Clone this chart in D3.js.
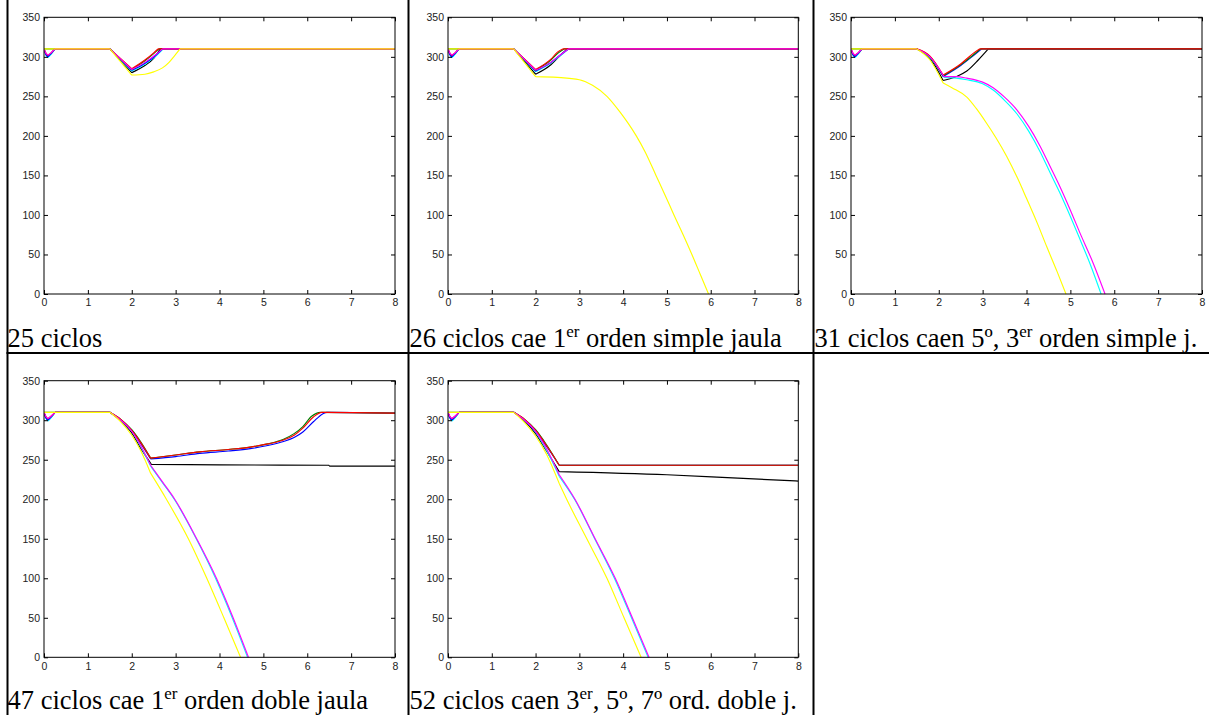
<!DOCTYPE html>
<html>
<head>
<meta charset="utf-8">
<script src="https://cdn.jsdelivr.net/npm/d3@7/dist/d3.min.js"></script>
<style>
  html, body { margin: 0; padding: 0; background: #fff; }
  svg { display: block; }
</style>
</head>
<body>
<svg id="chart" width="1209" height="715"></svg>
<script>
// ---------- DATA ----------
// each point: [time, value] ; a third element 1 marks a sharp corner of the trace
const xTicks = [0, 1, 2, 3, 4, 5, 6, 7, 8];
const yTicks = [0, 50, 100, 150, 200, 250, 300, 350];
const seriesKeys = ["k", "c", "b", "g", "r", "m", "y"];

// Panel 1: 25 ciclos
const p1_k = [[0,310],[0.04,304],[0.09,301,1],[0.16,304],[0.25,310,1],[1.5,310,1],[2.0,280,1],[2.3,289],[2.5,298],[2.65,310,1],[8,310]];
const p1_c = [[0,310],[0.04,303],[0.09,299,1],[0.16,303],[0.25,310,1],[1.5,310,1],[2.0,282,1],[2.3,291],[2.55,301],[2.72,310,1],[8,310]];
const p1_b = [[0,310],[0.04,303],[0.09,300,1],[0.16,304],[0.25,310,1],[1.5,310,1],[2.0,283,1],[2.3,292],[2.55,302],[2.7,310,1],[8,310]];
const p1_g = [[0,310],[1.5,310,1],[2.0,284,1],[2.3,295],[2.5,304],[2.62,310,1],[8,310]];
const p1_r = [[0,310],[0.04,305],[0.09,302,1],[0.16,305],[0.25,310,1],[1.5,310,1],[2.0,285,1],[2.3,296],[2.5,305],[2.6,310,1],[8,310]];
const p1_m = [[0,310],[0.04,305],[0.09,302,1],[0.16,305],[0.25,310,1],[1.5,310,1],[2.0,284,1],[2.3,293],[2.55,303],[2.7,310,1],[8,310]];
const p1_y = [[0,310],[1.5,310,1],[2.0,277,1],[2.3,278],[2.5,281],[2.7,286],[2.85,293],[2.97,301],[3.1,310,1],[8,310]];

// Panel 2: 26 ciclos
const p2_k = [[0,310],[0.04,304],[0.09,301,1],[0.16,304],[0.25,310,1],[1.5,310,1],[2.0,278,1],[2.35,290],[2.55,301],[2.72,310,1],[8,310]];
const p2_c = [[0,310],[0.04,303],[0.09,299,1],[0.16,303],[0.25,310,1],[1.5,310,1],[2.0,281,1],[2.35,292],[2.58,302],[2.75,310,1],[8,310]];
const p2_b = [[0,310],[0.04,303],[0.09,300,1],[0.16,304],[0.25,310,1],[1.5,310,1],[2.0,282,1],[2.35,293],[2.58,303],[2.75,310,1],[8,310]];
const p2_g = [[0,310],[1.5,310,1],[2.0,283,1],[2.35,296],[2.52,305],[2.65,310,1],[8,310]];
const p2_r = [[0,310],[0.04,305],[0.09,302,1],[0.16,305],[0.25,310,1],[1.5,310,1],[2.0,284,1],[2.35,297],[2.5,306],[2.62,310,1],[8,310]];
const p2_m = [[0,310],[0.04,305],[0.09,302,1],[0.16,305],[0.25,310,1],[1.5,310,1],[2.0,283,1],[2.35,293],[2.58,303],[2.75,310,1],[8,310]];
const p2_y = [[0,310],[1.5,310,1],[2.0,275,1],[2.5,274],[3.0,271],[3.3,264],[3.63,250],[3.93,230],[4.1,217],[4.3,200],[4.5,180],[4.75,150],[4.95,126],[5.16,100],[5.37,75],[5.57,50],[5.76,25],[5.95,0]];

// Panel 3: 31 ciclos
const p3_k = [[0,310],[0.04,304],[0.09,301,1],[0.16,304],[0.25,310,1],[1.5,310,1],[1.8,298],[2.1,270,1],[2.4,275],[2.64,282],[2.9,296],[3.13,310,1],[8,310]];
const p3_c = [[0,310],[0.04,303],[0.09,299,1],[0.16,303],[0.25,310,1],[1.5,310,1],[1.8,299],[2.12,274,1],[2.4,273],[2.64,271],[3.0,266],[3.24,258],[3.5,245],[3.78,228],[4.05,206],[4.31,180],[4.55,152],[4.76,128],[5.0,98],[5.22,69],[5.45,38],[5.70,0]];
const p3_b = [[0,310],[0.04,303],[0.09,300,1],[0.16,304],[0.25,310,1],[1.5,310,1],[1.8,300],[2.1,275,1],[2.5,289],[2.8,302],[2.98,310,1],[8,310]];
const p3_g = [[0,310],[1.5,310,1],[1.8,300],[2.1,276,1],[2.5,290],[2.8,303],[2.95,310,1],[8,310]];
const p3_r = [[0,310],[0.04,305],[0.09,302,1],[0.16,305],[0.25,310,1],[1.5,310,1],[1.8,301],[2.1,277,1],[2.5,291],[2.8,305],[2.93,310,1],[8,310]];
const p3_m = [[0,310],[0.04,305],[0.09,302,1],[0.16,305],[0.25,310,1],[1.5,310,1],[1.8,300],[2.12,275,1],[2.4,275],[2.64,273],[3.0,268],[3.24,261],[3.5,249],[3.78,233],[4.05,212],[4.31,187],[4.55,160],[4.76,136],[5.0,106],[5.22,77],[5.52,39],[5.79,0]];
const p3_y = [[0,310],[1.5,310,1],[1.8,296],[2.1,267,1],[2.3,261],[2.64,249],[2.85,235],[3.09,216],[3.3,198],[3.55,174],[3.8,146],[4.0,121],[4.25,89],[4.46,60],[4.7,28],[4.90,0]];

// Panel 4: 47 ciclos
const p4_k = [[0,310],[0.04,304],[0.09,301,1],[0.16,304],[0.25,310,1],[1.5,310,1],[1.75,299],[2.0,284],[2.2,265],[2.45,244,1],[4.0,243.5],[6.5,243,1],[6.5,242,1],[8,242]];
const p4_c = [[0,310],[0.04,303],[0.09,299,1],[0.16,303],[0.25,310,1],[1.5,310,1],[1.75,300],[2.0,286],[2.2,267],[2.43,242,1],[2.7,221],[2.98,199],[3.47,150],[3.91,100],[4.29,50],[4.64,0]];
const p4_b = [[0,310],[0.04,303],[0.09,300,1],[0.16,304],[0.25,310,1],[1.5,310,1],[1.75,300],[2.0,287],[2.2,271],[2.43,251,1],[3.0,254],[3.55,258],[4.2,261],[4.7,264],[5.1,268],[5.46,273],[5.7,278],[5.9,285],[6.14,298],[6.35,308],[6.45,310],[8,309]];
const p4_g = [[0,310],[1.5,310,1],[1.75,301],[2.0,288],[2.2,273],[2.43,252,1],[3.0,256],[3.55,260],[4.2,263],[4.7,266],[5.1,270],[5.46,276],[5.7,283],[5.9,292],[6.1,305],[6.3,310],[8,309]];
const p4_r = [[0,310],[0.04,305],[0.09,302,1],[0.16,305],[0.25,310,1],[1.5,310,1],[1.75,301],[2.0,287],[2.2,272],[2.43,252,1],[3.0,256],[3.55,260],[4.2,263],[4.7,266],[5.1,270],[5.46,275],[5.7,281],[5.9,290],[6.14,304],[6.33,310],[8,309]];
const p4_m = [[0,310],[0.04,305],[0.09,302,1],[0.16,305],[0.25,310,1],[1.5,310,1],[1.75,300],[2.0,286],[2.2,268],[2.43,243,1],[2.7,222],[2.98,200],[3.48,150],[3.93,100],[4.31,50],[4.66,0]];
const p4_y = [[0,310],[1.5,310,1],[1.75,298],[2.0,281],[2.2,262],[2.43,233,1],[2.79,200],[3.29,150],[3.71,100],[4.1,50],[4.48,0]];

// Panel 5: 52 ciclos
const p5_k = [[0,310],[0.04,304],[0.09,301,1],[0.16,304],[0.25,310,1],[1.5,310,1],[1.75,299],[2.0,283],[2.25,261],[2.54,235,1],[5.0,231],[6.5,227],[8,223]];
const p5_c = [[0,310],[0.04,303],[0.09,299,1],[0.16,303],[0.25,310,1],[1.5,310,1],[1.75,300],[2.0,285],[2.25,262],[2.54,229,1],[2.9,199],[3.35,150],[3.8,100],[4.19,50],[4.57,0]];
const p5_b = [[0,310],[0.04,303],[0.09,300,1],[0.16,304],[0.25,310,1],[1.5,310,1],[1.75,300],[2.0,286],[2.25,267],[2.54,243,1],[8,243]];
const p5_g = [[0,310],[1.5,310,1],[1.75,301],[2.0,288],[2.25,269],[2.54,243,1],[8,243]];
const p5_r = [[0,310],[0.04,305],[0.09,302,1],[0.16,305],[0.25,310,1],[1.5,310,1],[1.75,301],[2.0,287],[2.25,268],[2.54,243,1],[8,243]];
const p5_m = [[0,310],[0.04,305],[0.09,302,1],[0.16,305],[0.25,310,1],[1.5,310,1],[1.75,300],[2.0,286],[2.25,264],[2.54,231,1],[2.9,200],[3.36,150],[3.82,100],[4.21,50],[4.59,0]];
const p5_y = [[0,310],[1.5,310,1],[1.75,297],[2.0,280],[2.25,257],[2.54,220,1],[2.71,200],[3.17,150],[3.63,100],[4.02,50],[4.41,0]];

const captionsMain = ["25 ciclos", "26 ciclos cae 1", "31 ciclos caen 5º, 3", "47 ciclos cae 1", "52 ciclos caen 3"];
const captionsSup  = ["", "er", "er", "er", "er"];
const captionsRest = ["", " orden simple jaula", " orden simple j.", " orden doble jaula", ", 5º, 7º ord. doble j."];

// ---------- LAYOUT ----------
const colors = { b: "#0000ff", g: "#008000", r: "#ff0000", c: "#00ffff", m: "#ff00ff", y: "#ffff00", k: "#000000" };
const panelData = [
  { k: p1_k, c: p1_c, b: p1_b, g: p1_g, r: p1_r, m: p1_m, y: p1_y },
  { k: p2_k, c: p2_c, b: p2_b, g: p2_g, r: p2_r, m: p2_m, y: p2_y },
  { k: p3_k, c: p3_c, b: p3_b, g: p3_g, r: p3_r, m: p3_m, y: p3_y },
  { k: p4_k, c: p4_c, b: p4_b, g: p4_g, r: p4_r, m: p4_m, y: p4_y },
  { k: p5_k, c: p5_c, b: p5_b, g: p5_g, r: p5_r, m: p5_m, y: p5_y }
];
const boxes = [
  { x0: 44,  x1: 395,  y0: 17.3,  y1: 294,   tx: 7.5,   ty: 346.5 },
  { x0: 448, x1: 798.3, y0: 17.3, y1: 294,   tx: 409.5, ty: 346.5 },
  { x0: 851, x1: 1202, y0: 17.3,  y1: 294,   tx: 814.5, ty: 346.5 },
  { x0: 44,  x1: 395,  y0: 380.7, y1: 657.3, tx: 7.5,   ty: 708.5 },
  { x0: 448, x1: 798.3, y0: 380.7, y1: 657.3, tx: 409.5, ty: 708.5 }
];

// split a trace at its corner points so each piece can be drawn smooth
function splitAtCorners(pts) {
  const segs = [];
  let cur = [pts[0]];
  for (let j = 1; j < pts.length; j++) {
    cur.push(pts[j]);
    if (pts[j][2] === 1 && j < pts.length - 1) {
      segs.push(cur);
      cur = [pts[j]];
    }
  }
  if (cur.length > 1) segs.push(cur);
  return segs;
}

const svg = d3.select("#chart");

// table borders
const tbl = svg.append("g");
[[6.5, 0, 2, 715], [407.5, 0, 2, 715], [812.5, 0, 2, 715], [6.5, 352, 1209, 2]].forEach(d => {
  tbl.append("rect").attr("x", d[0]).attr("y", d[1]).attr("width", d[2]).attr("height", d[3]).attr("fill", "#000");
});

boxes.forEach((bx, i) => {
  const x = d3.scaleLinear().domain([0, 8]).range([bx.x0, bx.x1]);
  const y = d3.scaleLinear().domain([0, 350]).range([bx.y1, bx.y0]);
  const g = svg.append("g");

  const clipId = "clip" + i;
  g.append("clipPath").attr("id", clipId).append("rect")
    .attr("x", bx.x0).attr("y", bx.y0).attr("width", bx.x1 - bx.x0).attr("height", bx.y1 - bx.y0 + 1);

  const lineCurve = d3.line().x(d => x(d[0])).y(d => y(d[1])).curve(d3.curveMonotoneX);
  const lg = g.append("g").attr("clip-path", `url(#${clipId})`);
  seriesKeys.forEach(key => {
    const segs = splitAtCorners(panelData[i][key]);
    const dStr = segs.map(s => lineCurve(s)).join("");
    lg.append("path").attr("d", dStr).attr("fill", "none")
      .attr("stroke", colors[key]).attr("stroke-width", 1.15)
      .attr("stroke-linejoin", "round");
  });

  const styleAxis = sel => {
    sel.select(".domain").remove();
    sel.selectAll(".tick line").attr("stroke", "#000").attr("stroke-width", 1);
    sel.selectAll("text").attr("font-family", "'Liberation Sans', Arial, Helvetica, sans-serif")
      .attr("font-size", "10.5px").attr("fill", "#222");
  };

  g.append("g").attr("transform", `translate(0,${bx.y1})`)
    .call(d3.axisBottom(x).tickValues(xTicks).tickFormat(d3.format("d")).tickSize(-4).tickPadding(5))
    .call(styleAxis);
  g.append("g").attr("transform", `translate(0,${bx.y0})`)
    .call(d3.axisTop(x).tickValues(xTicks).tickFormat("").tickSize(-4))
    .call(styleAxis);
  g.append("g").attr("transform", `translate(${bx.x0},0)`)
    .call(d3.axisLeft(y).tickValues(yTicks).tickFormat(d3.format("d")).tickSize(-4).tickPadding(4))
    .call(styleAxis);
  g.append("g").attr("transform", `translate(${bx.x1},0)`)
    .call(d3.axisRight(y).tickValues(yTicks).tickFormat("").tickSize(-4))
    .call(styleAxis);

  g.append("rect").attr("x", bx.x0).attr("y", bx.y0)
    .attr("width", bx.x1 - bx.x0).attr("height", bx.y1 - bx.y0)
    .attr("fill", "none").attr("stroke", "#000").attr("stroke-width", 1);

  const t = svg.append("text").attr("x", bx.tx).attr("y", bx.ty)
    .attr("font-family", "'Liberation Serif', 'Times New Roman', serif")
    .attr("font-size", "26.5px").attr("fill", "#000");
  t.append("tspan").text(captionsMain[i]);
  if (captionsSup[i]) {
    t.append("tspan").attr("dy", -10).attr("font-size", "17px").text(captionsSup[i]);
    t.append("tspan").attr("dy", 10).text(captionsRest[i]);
  }
});
</script>
</body>
</html>
